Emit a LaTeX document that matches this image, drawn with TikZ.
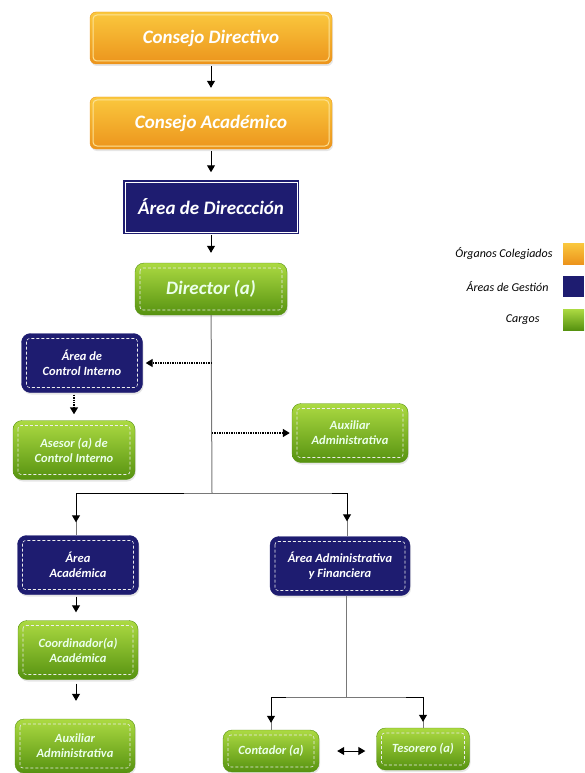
\documentclass[tikz,border=0pt]{standalone}
\usepackage{fontspec}
\setmainfont{Carlito}
\usepackage{tikz}
\usetikzlibrary{arrows.meta, positioning, shadows}
\definecolor{orgtop}{RGB}{250, 200, 62}
\definecolor{orgbot}{RGB}{236, 148, 28}
\definecolor{orgline}{RGB}{252, 226, 150}
\definecolor{navy}{RGB}{30, 28, 112}
\definecolor{greentop}{RGB}{172, 218, 66}
\definecolor{greenbot}{RGB}{86, 146, 16}
\definecolor{linegray}{RGB}{120, 120, 120}

\begin{document}
\begin{tikzpicture}[
  x=1pt, y=-1pt,
  organo/.style={top color=orgtop, bottom color=orgbot, draw=orgbot,
                 rounded corners=6pt, minimum width=242pt, minimum height=52pt,
                 font=\fontsize{19}{22}\selectfont\bfseries\itshape, text=white,
                 drop shadow={opacity=0.2, shadow xshift=1pt, shadow yshift=-2pt},
                 path picture={\draw[orgline, line width=1pt, rounded corners=4pt]
                   ([shift={(3pt,-3pt)}]path picture bounding box.north west) rectangle
                   ([shift={(-3pt,3pt)}]path picture bounding box.south east);}},
  direccion/.style={fill=navy, draw=navy, line width=1.5pt, double=white,
                 double distance=1pt, minimum width=172pt, minimum height=50pt,
                 font=\fontsize{19}{22}\selectfont\bfseries\itshape, text=white},
  inner/.style={path picture={\draw[white!85!gray, densely dashed, line width=0.6pt,
                   rounded corners=3pt]
                   ([shift={(5pt,-5pt)}]path picture bounding box.north west) rectangle
                   ([shift={(-5pt,5pt)}]path picture bounding box.south east);}},
  gestion/.style={fill=navy, draw=navy, rounded corners=9pt, inner,
                 minimum width=121pt, minimum height=59pt, align=center,
                 font=\fontsize{12.5}{15}\selectfont\bfseries\itshape, text=white,
                 drop shadow={opacity=0.2, shadow xshift=1pt, shadow yshift=-2pt}},
  cargo/.style={top color=greentop, bottom color=greenbot, draw=greenbot,
                 rounded corners=9pt, inner, minimum width=120pt, minimum height=59pt,
                 align=center, font=\fontsize{12.5}{15}\selectfont\bfseries\itshape,
                 text=white!92!green,
                 drop shadow={opacity=0.2, shadow xshift=1pt, shadow yshift=-2pt}},
  arr/.style={-{Triangle[length=7pt,width=8pt]}, black, line width=1pt},
  tree/.style={draw=linegray, line width=1pt},
  dotarr/.style={-{Triangle[length=7pt,width=8pt]}, black, line width=1.4pt, densely dotted},
  leyenda/.style={font=\fontsize{12}{14}\selectfont\itshape, text=black, anchor=east},
  legbox/.style={minimum width=21pt, minimum height=21pt, inner sep=0pt}]
  \useasboundingbox (0,0) rectangle (584,773);

  % upper chain
  \node[organo] (cdir)  at (211,38)  {Consejo Directivo};
  \node[organo] (cacad) at (211,123) {Consejo Académico};
  \node[direccion] (adir) at (211,207) {Área de Direccción};
  \node[cargo, minimum width=152pt, minimum height=52pt,
        font=\fontsize{19}{22}\selectfont\bfseries\itshape] (dir) at (211,289) {Director (a)};
  \draw[arr, shorten <=2pt, shorten >=9pt] (cdir) -- (cacad);
  \draw[arr, shorten <=2pt, shorten >=9pt] (cacad) -- (adir);
  \draw[arr, shorten <=2pt, shorten >=10pt] (adir) -- (dir);

  % staff units
  \node[gestion] (ctrl)   at (82,363) {Área de\\Control Interno};
  \node[cargo, minimum width=122pt] (asesor) at (74,450) {Asesor (a) de\\Control Interno};
  \node[cargo, minimum width=116pt] (aux1)   at (350,433) {Auxiliar\\Administrativa};
  \coordinate (split) at (212,493);
  \draw[tree] (dir) -- (split);
  \draw[dotarr, shorten >=3pt] (ctrl.east -| split) -- (ctrl.east);
  \draw[dotarr, shorten >=2pt] (aux1.west -| split) -- (aux1.west);
  \draw[dotarr, shorten <=2pt, shorten >=6pt] (asesor.north |- ctrl.south) -- (asesor.north);

  % academic branch
  \node[gestion] (acad)  at (78,565) {Área\\Académica};
  \node[cargo] (coord)   at (78,650) {Coordinador(a)\\Académica};
  \node[cargo, minimum height=54pt] (aux2) at (75,746) {Auxiliar\\Administrativa};
  \draw[tree] (split) -| ([xshift=-2pt]acad.north);
  \draw[arr, shorten <=28pt, shorten >=13pt] (split) -| ([xshift=-2pt]acad.north);
  \draw[arr, shorten <=2pt, shorten >=8pt] ([xshift=-2pt]acad.south) -- ([xshift=-2pt]coord.north);
  \draw[arr, shorten <=4pt, shorten >=18pt] ([xshift=-2pt]coord.south) -- ([xshift=-2pt]coord.south |- aux2.north);

  % administrative branch
  \node[gestion, minimum width=140pt] (adfin) at (340,566) {Área Administrativa\\y Financiera};
  \coordinate (split2) at (346,697);
  \node[cargo, minimum width=96pt, minimum height=42pt] (cont) at (271,751) {Contador (a)};
  \node[cargo, minimum width=93pt, minimum height=42pt] (teso) at (423,749) {Tesorero (a)};
  \draw[tree] (split) -| ([xshift=7pt]adfin.north);
  \draw[arr, shorten <=120pt, shorten >=15pt] (split) -| ([xshift=7pt]adfin.north);
  \draw[tree] ([xshift=6pt]adfin.south) -- (split2);
  \draw[tree] (split2) -| (cont.north);
  \draw[arr, shorten <=60pt, shorten >=7pt] (split2) -| (cont.north);
  \draw[tree] (split2) -| (teso.north);
  \draw[arr, shorten <=60pt, shorten >=6pt] (split2) -| (teso.north);
  \draw[{Triangle[length=7pt,width=8pt]}-{Triangle[length=7pt,width=8pt]}, black,
        line width=1pt, shorten <=18pt, shorten >=11pt] (cont.east) -- (cont.east -| teso.west);

  % legend
  \node[legbox, top color=orgtop, bottom color=orgbot] (korg) at (573.5,253.5) {};
  \node[legbox, fill=navy] (kges) at (573.5,286) {};
  \node[legbox, top color=greentop, bottom color=greenbot] (kcar) at (573.5,319.5) {};
  \node[leyenda] (lorg) at (556,254) {Órganos Colegiados};
  \node[leyenda] (lges) at (552,287) {Áreas de Gestión};
  \node[leyenda] (lcar) at (543,320) {Cargos};
\end{tikzpicture}
\end{document}
